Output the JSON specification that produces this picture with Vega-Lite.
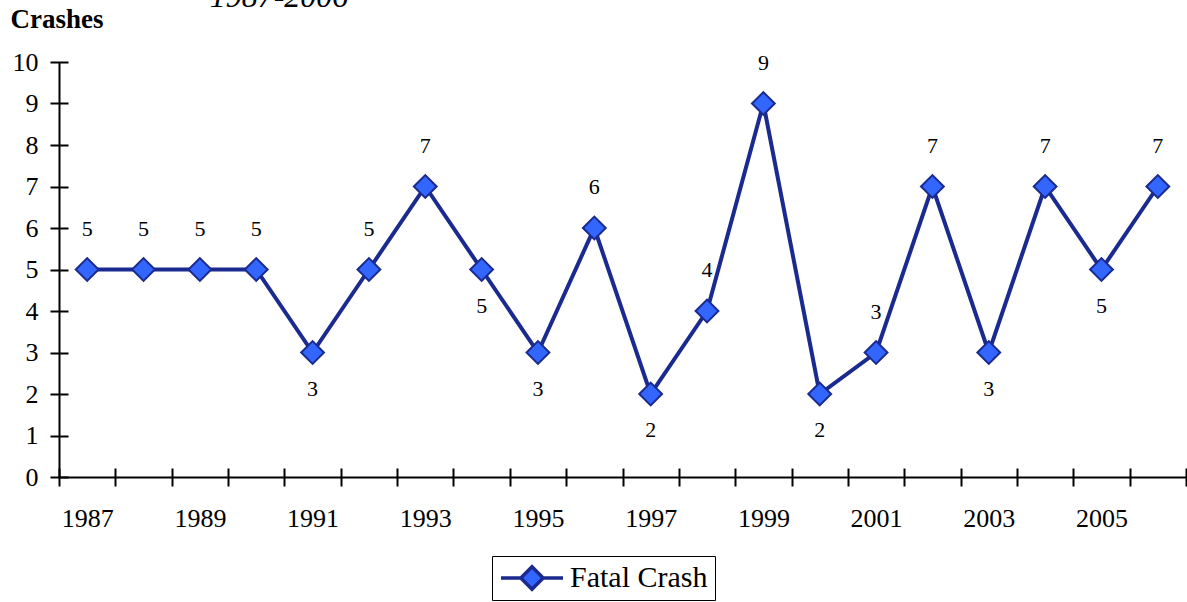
{
  "$schema": "https://vega.github.io/schema/vega-lite/v6.json",
  "width": 1127,
  "height": 415,
  "autosize": {"type": "none"},
  "padding": {"left": 59, "top": 62, "right": 1, "bottom": 125},
  "background": "white",
  "title": {
    "text": "1987-2006",
    "font": "Liberation Serif",
    "fontStyle": "italic",
    "fontWeight": "normal",
    "fontSize": 32,
    "color": "black",
    "anchor": "start",
    "align": "center",
    "frame": "group",
    "dx": 220,
    "offset": -34,
    "baseline": "alphabetic"
  },
  "config": {
    "view": {"stroke": null},
    "font": "Liberation Serif",
    "axis": {"labelFont": "Liberation Serif", "titleFont": "Liberation Serif", "labelColor": "black", "titleColor": "black", "domainColor": "black", "tickColor": "black", "grid": false},
    "legend": {"labelFont": "Liberation Serif"}
  },
  "data": {
    "values": [
      {"year": "1987", "crashes": 5, "pos": "above"},
      {"year": "1988", "crashes": 5, "pos": "above"},
      {"year": "1989", "crashes": 5, "pos": "above"},
      {"year": "1990", "crashes": 5, "pos": "above"},
      {"year": "1991", "crashes": 3, "pos": "below"},
      {"year": "1992", "crashes": 5, "pos": "above"},
      {"year": "1993", "crashes": 7, "pos": "above"},
      {"year": "1994", "crashes": 5, "pos": "below"},
      {"year": "1995", "crashes": 3, "pos": "below"},
      {"year": "1996", "crashes": 6, "pos": "above"},
      {"year": "1997", "crashes": 2, "pos": "below"},
      {"year": "1998", "crashes": 4, "pos": "above"},
      {"year": "1999", "crashes": 9, "pos": "above"},
      {"year": "2000", "crashes": 2, "pos": "below"},
      {"year": "2001", "crashes": 3, "pos": "above"},
      {"year": "2002", "crashes": 7, "pos": "above"},
      {"year": "2003", "crashes": 3, "pos": "below"},
      {"year": "2004", "crashes": 7, "pos": "above"},
      {"year": "2005", "crashes": 5, "pos": "below"},
      {"year": "2006", "crashes": 7, "pos": "above"}
    ]
  },
  "layer": [
    {
      "mark": {"type": "line", "color": "#1B2A8F", "strokeWidth": 4},
      "encoding": {
        "x": {
          "field": "year", "type": "ordinal",
          "scale": {"type": "band", "paddingInner": 0, "paddingOuter": 0},
          "axis": {
            "orient": "bottom", "title": null, "labelAngle": 0, "ticks": false, "tickSize": 0,
            "domainWidth": 2, "labelFontSize": 26, "labelPadding": 28, "labelBaseline": "top",
            "tickBand": "extent",
            "labelExpr": "toNumber(datum.value) % 2 == 1 ? datum.value : ''"
          }
        },
        "y": {
          "field": "crashes", "type": "quantitative",
          "scale": {"domain": [0, 10], "nice": false},
          "axis": {
            "orient": "left", "values": [0,1,2,3,4,5,6,7,8,9,10], "ticks": false, "tickSize": 0,
            "domainWidth": 2, "labelFontSize": 26, "labelPadding": 21,
            "title": "Crashes", "titleAngle": 0, "titleX": -49, "titleY": -35,
            "titleAlign": "left", "titleBaseline": "alphabetic", "titleFontWeight": "bold", "titleFontSize": 27
          }
        }
      }
    },
    {
      "mark": {"type": "point", "shape": "diamond", "filled": true, "size": 520, "stroke": "#1B2A8F", "strokeWidth": 2, "opacity": 1},
      "encoding": {
        "x": {
          "field": "year", "type": "ordinal",
          "axis": {"orient": "bottom", "title": null, "labels": false, "domain": false, "offset": -9, "tickSize": 18, "tickWidth": 2, "tickBand": "extent"}
        },
        "y": {
          "field": "crashes", "type": "quantitative",
          "axis": {"orient": "left", "title": null, "labels": false, "domain": false, "offset": -9, "tickSize": 18, "tickWidth": 2, "values": [0,1,2,3,4,5,6,7,8,9,10]}
        },
        "fill": {
          "datum": "Fatal Crash",
          "scale": {"range": ["#3366FF"]},
          "legend": {
            "title": null, "orient": "none", "legendX": 433, "legendY": 494,
            "padding": 7, "strokeColor": "black", "clipHeight": 30,
            "symbolType": "M-1,0L-0.36,0M0.36,0L1,0M-0.36,0L0,-0.36L0.36,0L0,0.36Z",
            "symbolSize": 3844, "symbolStrokeColor": "#1B2A8F", "symbolStrokeWidth": 3.5,
            "symbolFillColor": "#3366FF", "symbolOpacity": 1,
            "labelFontSize": 30, "labelColor": "black", "labelOffset": 5
          }
        }
      }
    },
    {
      "transform": [{"filter": "datum.pos == 'above'"}],
      "mark": {"type": "text", "fontSize": 22, "dy": -41, "baseline": "middle", "color": "black"},
      "encoding": {
        "x": {"field": "year", "type": "ordinal", "axis": null},
        "y": {"field": "crashes", "type": "quantitative", "axis": null},
        "text": {"field": "crashes", "type": "quantitative"}
      }
    },
    {
      "transform": [{"filter": "datum.pos == 'below'"}],
      "mark": {"type": "text", "fontSize": 22, "dy": 36, "baseline": "middle", "color": "black"},
      "encoding": {
        "x": {"field": "year", "type": "ordinal", "axis": null},
        "y": {"field": "crashes", "type": "quantitative", "axis": null},
        "text": {"field": "crashes", "type": "quantitative"}
      }
    }
  ],
  "resolve": {"axis": {"x": "independent", "y": "independent"}}
}
